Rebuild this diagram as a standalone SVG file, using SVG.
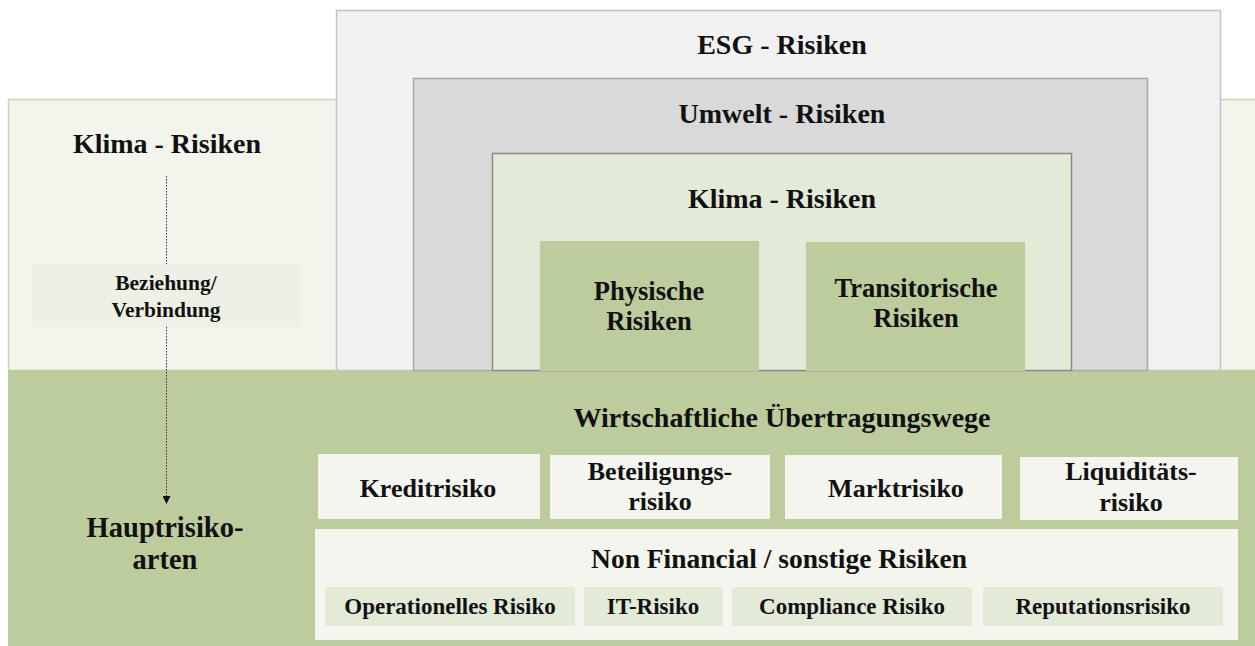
<svg xmlns="http://www.w3.org/2000/svg" width="1255" height="646" viewBox="0 0 1255 646">
<defs>
<style>
text{font-family:"Liberation Serif","DejaVu Serif",serif;font-weight:bold;fill:#111;text-anchor:middle}
.h1{font-size:28px}
.h2{font-size:26px}
.h3{font-size:23px}
.lbl{font-size:21.5px}
.band{fill:#bdcc9c}
.wbox{fill:#f4f5ee}
.sub{fill:#e3ead7}
</style>
<marker id="arr" viewBox="0 0 10 10" refX="10" refY="5" markerWidth="8" markerHeight="8" markerUnits="userSpaceOnUse" orient="auto">
<path d="M0,0 L10,5 L0,10 z" fill="#111"/>
</marker>
</defs>
<rect width="1255" height="646" fill="#ffffff"/>
<g id="klima-outer">
<rect x="8.5" y="99.5" width="1260" height="271" fill="#f3f4ec" stroke="#c9d6af" stroke-width="1.5"/>
<text class="h1" x="167" y="153">Klima - Risiken</text>
</g>
<g id="hauptrisikoarten">
<rect class="band" x="8" y="370" width="1247" height="276"/>
<text class="h1" x="165" y="537" style="font-size:28.5px">Hauptrisiko-</text>
<text class="h1" x="165" y="569" style="font-size:28.5px">arten</text>
</g>
<g id="esg">
<rect x="336.5" y="10.5" width="884" height="360" fill="#f1f1f1" stroke="#c3c3c3" stroke-width="1.5"/>
<text class="h1" x="782" y="54">ESG - Risiken</text>
</g>
<g id="umwelt">
<rect x="413.5" y="78.5" width="734" height="292" fill="#d9d9d9" stroke="#a9a9a9" stroke-width="1.5"/>
<text class="h1" x="782" y="123">Umwelt - Risiken</text>
</g>
<g id="klima-inner">
<rect x="492.5" y="153.5" width="579" height="217" fill="#e3ead8" stroke="#8a8a8a" stroke-width="1.5"/>
<text class="h1" x="782" y="208">Klima - Risiken</text>
</g>
<g id="physisch">
<rect class="band" x="540" y="241" width="219" height="130"/>
<text class="h2" x="649" y="300" style="font-size:26.5px">Physische</text>
<text class="h2" x="649" y="330" style="font-size:26.5px">Risiken</text>
</g>
<g id="transitorisch">
<rect class="band" x="806" y="242" width="219" height="129"/>
<text class="h2" x="916" y="297" style="font-size:26.5px">Transitorische</text>
<text class="h2" x="916" y="327" style="font-size:26.5px">Risiken</text>
</g>
<g id="beziehung">
<rect x="32" y="264" width="269" height="63" fill="#eef0e6"/>
<text class="lbl" x="166" y="290">Beziehung/</text>
<text class="lbl" x="166" y="317">Verbindung</text>
</g>
<g id="connectors" stroke="#333" stroke-width="1" stroke-dasharray="1.5,1.5" fill="none">
<line x1="166.5" y1="176" x2="166.5" y2="264"/>
<line x1="166.5" y1="327" x2="166.5" y2="504" marker-end="url(#arr)"/>
</g>
<g id="wirtschaftlich">
<text class="h1" x="782" y="427">Wirtschaftliche Übertragungswege</text>
</g>
<g id="kredit">
<rect class="wbox" x="318" y="454" width="222" height="65"/>
<text class="h2" x="428" y="497">Kreditrisiko</text>
</g>
<g id="beteiligung">
<rect class="wbox" x="550" y="455" width="220" height="64"/>
<text class="h2" x="660" y="480">Beteiligungs-</text>
<text class="h2" x="660" y="510">risiko</text>
</g>
<g id="markt">
<rect class="wbox" x="785" y="455" width="217" height="64"/>
<text class="h2" x="896" y="497">Marktrisiko</text>
</g>
<g id="liquiditaet">
<rect class="wbox" x="1020" y="457" width="218" height="63"/>
<text class="h2" x="1131" y="480">Liquiditäts-</text>
<text class="h2" x="1131" y="511">risiko</text>
</g>
<g id="nonfinancial">
<rect class="wbox" x="315" y="529" width="923" height="111"/>
<text class="h1" x="779" y="568" style="font-size:27.5px">Non Financial / sonstige Risiken</text>
</g>
<g id="operationell">
<rect class="sub" x="325" y="587" width="250" height="39"/>
<text class="h3" x="450" y="614">Operationelles Risiko</text>
</g>
<g id="it">
<rect class="sub" x="584" y="587" width="139" height="39"/>
<text class="h3" x="653" y="614">IT-Risiko</text>
</g>
<g id="compliance">
<rect class="sub" x="732" y="587" width="240" height="39"/>
<text class="h3" x="852" y="614">Compliance Risiko</text>
</g>
<g id="reputation">
<rect class="sub" x="983" y="587" width="240" height="39"/>
<text class="h3" x="1103" y="614">Reputationsrisiko</text>
</g>
</svg>
